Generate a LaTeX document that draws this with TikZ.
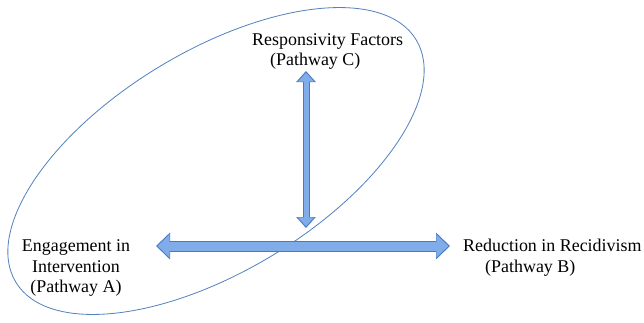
\documentclass[tikz,border=0pt]{standalone}
\usepackage{fontspec}
\setmainfont{Liberation Serif}
\usetikzlibrary{arrows.meta}
\definecolor{EllBlue}{RGB}{84,130,190}
\definecolor{ArrEdge}{RGB}{70,122,196}
\definecolor{ArrFill}{RGB}{128,172,234}

\begin{document}
\begin{tikzpicture}[x=0.03cm,y=0.03cm,
  lbl/.style={inner sep=0pt,font=\fontsize{15.3}{17.8}\selectfont},
  hedge/.style={line width=0.33cm,ArrEdge,
                {Triangle[width=0.78cm,length=0.42cm]}-{Triangle[width=0.78cm,length=0.42cm]}},
  hfill/.style={line width=0.27cm,ArrFill,shorten <=1.4pt,shorten >=1.4pt,
                {Triangle[width=0.68cm,length=0.36cm]}-{Triangle[width=0.68cm,length=0.36cm]}},
  vedge/.style={line width=0.21cm,ArrEdge,
                {Triangle[width=0.57cm,length=0.33cm]}-{Triangle[width=0.57cm,length=0.33cm]}},
  vfill/.style={line width=0.15cm,ArrFill,shorten <=1.4pt,shorten >=1.4pt,
                {Triangle[width=0.47cm,length=0.27cm]}-{Triangle[width=0.47cm,length=0.27cm]}}
]
\useasboundingbox (0,0) rectangle (644,322);

% the circled pair
\draw[EllBlue,line width=0.7pt,rotate around={31.2:(216,161)}] (216,161) ellipse [x radius=234,y radius=110];

\node[lbl,anchor=west,align=left] (resp) at (252,270.5) {Responsivity Factors\\\hspace{0.54cm}(Pathway C)};
\node[lbl,align=center] (eng) at (76,54) {Engagement in\\Intervention\\(Pathway A)};
\node[lbl,anchor=west,align=left] (red) at (463,64) {Reduction in Recidivism\\\hspace{0.66cm}(Pathway B)};

\coordinate (hleft) at (156,76);
\coordinate (hright) at (450,76);
\coordinate (vtop) at (306,251);
\coordinate (vbot) at (306,94);

\draw[hedge] (hleft) -- (hright);
\draw[hfill] (hleft) -- (hright);
\draw[vedge] (vtop) -- (vbot);
\draw[vfill] (vtop) -- (vbot);
\end{tikzpicture}
\end{document}
